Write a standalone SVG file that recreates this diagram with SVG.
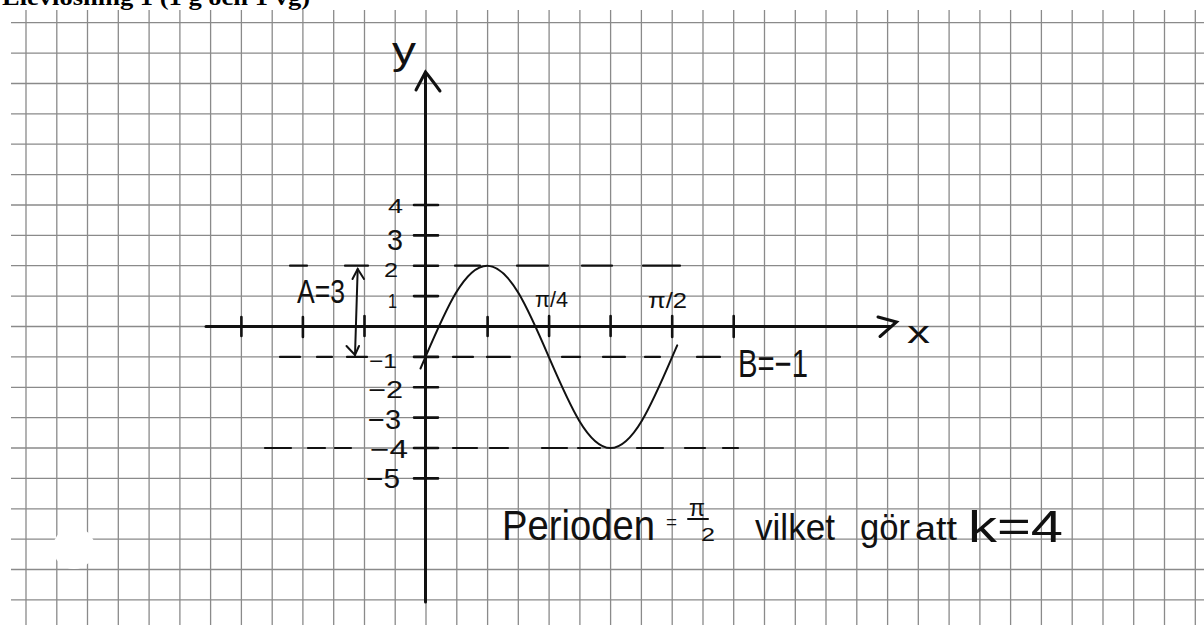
<svg xmlns="http://www.w3.org/2000/svg" width="1204" height="625" viewBox="0 0 1204 625">
<style>
.grid{stroke:#8a8a8a;stroke-width:1.3;fill:none}
.axis{stroke:#111;stroke-width:3;fill:none;stroke-linecap:round}
.tick{stroke:#111;stroke-width:2.6;fill:none;stroke-linecap:round}
.dash{stroke:#111;stroke-width:2.2;fill:none;stroke-linecap:round}
.curve{stroke:#111;stroke-width:2;fill:none;stroke-linecap:round}
.hw{font-family:"Liberation Sans",Arial,sans-serif;fill:#111}
.title{font-family:"Liberation Serif","Times New Roman",serif;font-weight:bold;font-size:23px;fill:#000}
</style>
<rect width="1204" height="625" fill="#fff"/>
<g id="grid">
<path class="grid" d="M26,10V625M56.8,10V625M87.5,10V625M118.3,10V625M149.1,10V625M179.9,10V625M210.6,10V625M241.4,10V625M272.2,10V625M302.9,10V625M333.7,10V625M364.5,10V625M395.2,10V625M426,10V625M456.8,10V625M487.6,10V625M518.3,10V625M549.1,10V625M579.9,10V625M610.6,10V625M641.4,10V625M672.2,10V625M703,10V625M733.7,10V625M764.5,10V625M795.3,10V625M826,10V625M856.8,10V625M887.6,10V625M918.3,10V625M949.1,10V625M979.9,10V625M1010.6,10V625M1041.4,10V625M1072.2,10V625M1103,10V625M1133.7,10V625M1164.5,10V625M1195.3,10V625"/>
<path class="grid" d="M11,22.7H1204M11,53.1H1204M11,83.5H1204M11,113.8H1204M11,144.2H1204M11,174.6H1204M11,205H1204M11,235.4H1204M11,265.7H1204M11,296.1H1204M11,326.5H1204M11,356.9H1204M11,387.3H1204M11,417.6H1204M11,448H1204M11,478.4H1204M11,508.8H1204M11,539.2H1204M11,569.5H1204M11,599.9H1204"/>
<circle cx="74" cy="548" r="21" fill="#fff"/>
</g>
<text id="title" class="title" x="2" y="5" textLength="308" lengthAdjust="spacingAndGlyphs">Elevlösning 1 (1 g och 1 vg)</text>
<g id="axes">
<path class="axis" d="M206,326.5H890"/>
<path class="axis" d="M878,317L896.5,322L880,336.5"/>
<path class="axis" d="M425.5,602V73"/>
<path class="axis" d="M416,90L425.5,72Q432,80 440,91"/>
<path class="tick" d="M241.4,317V336M302.9,317V337M364.5,316V336M487.6,317V336M549.1,316V336M610.6,316V336M672.2,316V337M733.7,316V337"/>
<path class="tick" d="M414,205H438M414,235.4H438M414,265.7H438M414,296.1H438M414,356.9H438M414,387.3H438M414,417.6H438M414,448H438M414,478.4H438"/>
</g>
<g id="guides">
<path class="dash" d="M290,265.7H307M345,265.7H368M455,265.7H480M517,265.7H548M582,265.7H612M643,265.7H680"/>
<path class="dash" d="M280,356.9H300M317,356.9H332M347,356.9H367M453,356.9H473M487,356.9H510M562,356.9H580M603,356.9H625M645,356.9H660M697,356.9H720"/>
<path class="dash" d="M265,448H291M308,448H325M335,448H351M453,448H477M490,448H508M542,448H567M578,448H600M637,448H663M685,448H705M723,448H738"/>
</g>
<g id="amplitude-arrow">
<path class="curve" d="M357.7,269L355,355"/>
<path class="curve" d="M352.5,279L357.7,269L364,279M346.5,346L355,355L359,346"/>
</g>
<path id="graph" class="curve" d="M420.5,368.5L425.5,356.9C446.1,309 464.8,265.7 487.2,265.7C509.5,265.7 528.2,309 548.8,356.9C569.5,404.8 588.2,448 610.5,448C632.9,448 651.6,404.8 672.2,356.9L677.2,345.3"/>
<g id="labels">
<text class="hw" x="392" y="64" font-size="38" textLength="24" lengthAdjust="spacingAndGlyphs">y</text>
<text class="hw" x="907" y="343" font-size="32" textLength="23" lengthAdjust="spacingAndGlyphs">x</text>
<text class="hw" x="388" y="213" font-size="21" textLength="15" lengthAdjust="spacingAndGlyphs">4</text>
<text class="hw" x="387" y="250" font-size="29" textLength="16" lengthAdjust="spacingAndGlyphs">3</text>
<text class="hw" x="384" y="277" font-size="20" textLength="14" lengthAdjust="spacingAndGlyphs">2</text>
<text class="hw" x="388" y="308" font-size="21" textLength="9" lengthAdjust="spacingAndGlyphs">1</text>
<text class="hw" x="369" y="368" font-size="21" textLength="28" lengthAdjust="spacingAndGlyphs">−1</text>
<text class="hw" x="368" y="398" font-size="24" textLength="35" lengthAdjust="spacingAndGlyphs">−2</text>
<text class="hw" x="368" y="429" font-size="27" textLength="33" lengthAdjust="spacingAndGlyphs">−3</text>
<text class="hw" x="370" y="458" font-size="25" textLength="38" lengthAdjust="spacingAndGlyphs">−4</text>
<text class="hw" x="366" y="488" font-size="28" textLength="34" lengthAdjust="spacingAndGlyphs">−5</text>
<text class="hw" x="297" y="303" font-size="34" textLength="48" lengthAdjust="spacingAndGlyphs">A=3</text>
<text class="hw" x="535" y="307" font-size="22" textLength="33" lengthAdjust="spacingAndGlyphs">π/4</text>
<text class="hw" x="648" y="308" font-size="22" textLength="39" lengthAdjust="spacingAndGlyphs">π/2</text>
<text class="hw" x="738" y="377" font-size="39" textLength="70" lengthAdjust="spacingAndGlyphs">B=−1</text>
</g>
<g id="note">
<text class="hw" x="502" y="540" font-size="42" textLength="153" lengthAdjust="spacingAndGlyphs">Perioden</text>
<text class="hw" x="666" y="528" font-size="18" textLength="11" lengthAdjust="spacingAndGlyphs">=</text>
<text class="hw" x="689" y="516" font-size="24" textLength="16" lengthAdjust="spacingAndGlyphs">π</text>
<path class="curve" d="M688,519H708" stroke-width="1.6"/>
<text class="hw" x="701" y="541" font-size="19" textLength="14" lengthAdjust="spacingAndGlyphs">2</text>
<text class="hw" x="755" y="540" font-size="36" textLength="80" lengthAdjust="spacingAndGlyphs">vilket</text>
<text class="hw" x="860" y="540" font-size="36" textLength="50" lengthAdjust="spacingAndGlyphs">gör</text>
<text class="hw" x="915" y="540" font-size="34" textLength="42" lengthAdjust="spacingAndGlyphs">att</text>
<text class="hw" x="968" y="542" font-size="44" textLength="95" lengthAdjust="spacingAndGlyphs">k=4</text>
</g>
</svg>
